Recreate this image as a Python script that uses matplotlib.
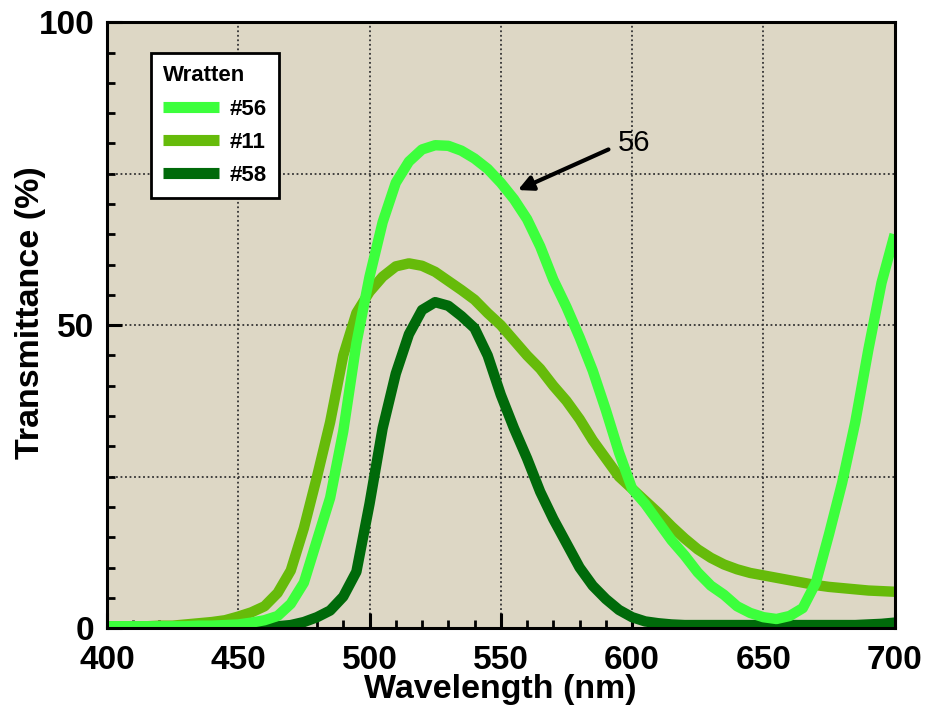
import matplotlib
matplotlib.use("Agg")
import matplotlib.pyplot as plt
import numpy as np
from matplotlib.lines import Line2D

plt.rcParams['font.family'] = ['Liberation Sans', 'DejaVu Sans']

wavelength = list(range(400, 705, 5))

t56 = [0.3, 0.3, 0.3, 0.3, 0.3, 0.3, 0.3, 0.4, 0.4, 0.5,
       0.6, 0.9, 1.3, 2.0, 4.0, 7.5, 14.5, 21.5, 32.5, 47,
       58, 67, 73.5, 77, 79, 79.7, 79.6, 78.8, 77.5, 75.8,
       73.5, 70.8, 67.5, 63, 57.5, 53, 48, 42.5, 36, 29,
       23, 20.5, 17.5, 14.5, 12, 9.2, 7, 5.5, 3.6, 2.5,
       1.8, 1.5, 2, 3.3, 7.5, 15.5, 24, 34, 46, 57,
       65]

t11 = [0.3, 0.3, 0.3, 0.3, 0.4, 0.4, 0.6, 0.8, 1.0, 1.3,
       1.9, 2.6, 3.6, 5.8, 9.5, 16.5, 25, 34, 45, 52,
       55.5, 58, 59.7, 60.2, 59.8, 58.8, 57.3, 55.8, 54.2, 52,
       50, 47.5, 45, 42.8, 40, 37.5, 34.5, 31, 28, 25,
       23, 21, 19, 16.8, 14.8, 13, 11.6, 10.5, 9.7, 9.1,
       8.7, 8.3, 7.9, 7.5, 7.1, 6.8, 6.6, 6.4, 6.2, 6.1,
       6.0]

t58 = [0.2, 0.2, 0.2, 0.2, 0.2, 0.2, 0.2, 0.2, 0.2, 0.2,
       0.2, 0.2, 0.2, 0.3, 0.5, 1.0, 1.8, 2.9, 5.2, 9.3,
       20.5, 33, 42, 48.5, 52.5, 53.8, 53.2, 51.5, 49.5, 45,
       38.5, 33, 28, 22.5, 18, 14, 10, 7, 4.8, 3,
       1.8, 1.1, 0.8, 0.6, 0.5, 0.5, 0.5, 0.5, 0.5, 0.5,
       0.5, 0.5, 0.5, 0.5, 0.5, 0.5, 0.5, 0.5, 0.6, 0.7,
       0.9]

series_labels = ['#56', '#11', '#58']
colors = {'#56': '#3CFF3C', '#11': '#66BB0A', '#58': '#006A0A'}

x_ticks = [400, 450, 500, 550, 600, 650, 700]
y_ticks = [0, 50, 100]

fig = plt.figure(figsize=(9.3, 7.17), dpi=100)
ax = fig.add_axes([0.115, 0.124, 0.847, 0.845])
ax.set_facecolor('#DDD7C5')

# grid
for gx in [450, 500, 550, 600, 650]:
    ax.axvline(gx, color='#333333', lw=1.3, ls=(0, (1, 1.5)), zorder=1)
for gy in [25, 50, 75]:
    ax.axhline(gy, color='#333333', lw=1.3, ls=(0, (1, 1.5)), zorder=1)

line_kw = dict(lw=7.5, solid_capstyle='butt', solid_joinstyle='round')
ax.plot(wavelength, t58, color=colors['#58'], zorder=3, **line_kw)
ax.plot(wavelength, t11, color=colors['#11'], zorder=4, **line_kw)
ax.plot(wavelength, t56, color=colors['#56'], zorder=5, **line_kw)

ax.set_xlim(400, 700)
ax.set_ylim(0, 100)
ax.set_xticks(x_ticks)
ax.set_yticks(y_ticks)
ax.set_xticks(np.arange(400, 701, 10), minor=True)
ax.set_yticks(np.arange(0, 101, 5), minor=True)
ax.tick_params(which='major', direction='in', length=11, width=2.2, labelsize=24, pad=12, color='black')
ax.tick_params(which='minor', direction='in', length=6, width=2.0, color='black')
for lab in ax.get_xticklabels() + ax.get_yticklabels():
    lab.set_fontweight('bold')
ax.tick_params(axis='y', pad=9)
for s in ax.spines.values():
    s.set_linewidth(2.2)
    s.set_color('black')
    s.set_zorder(6)

ax.set_xlabel('Wavelength (nm)', fontsize=24.5, fontweight='bold', labelpad=-1)
ax.set_ylabel('Transmittance (%)', fontsize=24.5, fontweight='bold')
ax.yaxis.set_label_coords(-0.078, 0.52)

# legend
handles = [Line2D([], [], color=colors[k], lw=8, solid_capstyle='butt') for k in series_labels]
leg = ax.legend(handles, series_labels, title='Wratten', loc='upper left',
                bbox_to_anchor=(0.056, 0.949), borderaxespad=0,
                prop={'weight': 'bold', 'size': 16},
                title_fontproperties={'weight': 'bold', 'size': 16},
                frameon=True, fancybox=False, framealpha=1, edgecolor='black',
                handlelength=2.5, handletextpad=0.5, labelspacing=0.55,
                borderpad=0.55)
leg.get_frame().set_linewidth(2)
leg._legend_box.align = 'left'
leg.set_zorder(7)

# annotation
ax.annotate('', xy=(556.5, 72.3), xytext=(591, 79),
            arrowprops=dict(arrowstyle='-|>', lw=3, color='black', mutation_scale=22,
                            shrinkA=0, shrinkB=0), zorder=8)
ax.text(594.5, 80.0, '56', fontsize=21, ha='left', va='center', zorder=8)

fig.savefig('out.png', dpi=100)
